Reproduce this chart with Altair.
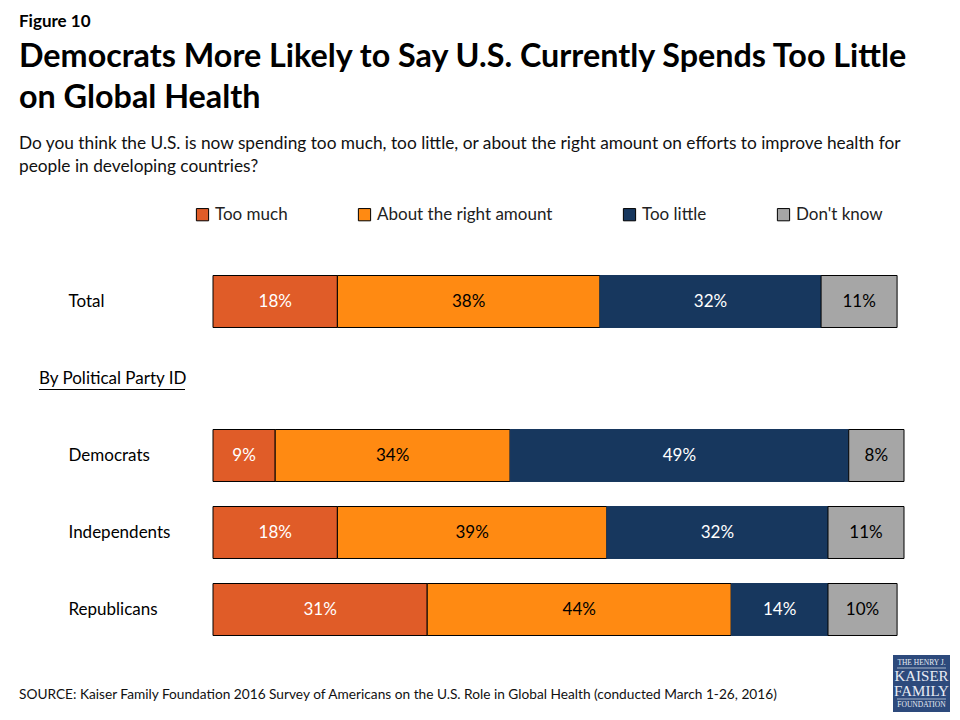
import altair as alt
import pandas as pd

rows = ["Total", "Democrats", "Independents", "Republicans"]
series = ["Too much", "About the right amount", "Too little", "Don't know"]
too_much = [18, 9, 18, 31]
about_right = [38, 34, 39, 44]
too_little = [32, 49, 32, 14]
dont_know = [11, 8, 11, 10]
colors = ["#E05C28", "#FF8A12", "#17375E", "#A6A6A6"]
section_label = "By Political Party ID"
y_domain = ["Total", section_label, "Democrats", "Independents", "Republicans"]

FONT = "Lato"

recs = []
for i, r in enumerate(rows):
    for j, (s, vals) in enumerate(zip(series, [too_much, about_right, too_little, dont_know])):
        recs.append({"row": r, "series": s, "order": j, "value": vals[i]})
df = pd.DataFrame(recs)

W, H = 691, 385

base = alt.Chart(df).transform_stack(
    stack="value", groupby=["row"], sort=[alt.SortField("order", order="ascending")], as_=["x0", "x1"]
).transform_calculate(
    mid="(datum.x0 + datum.x1) / 2",
    label="datum.value + '%'",
    tc="(datum.series == 'Too much' || datum.series == 'Too little') ? 'white' : 'black'",
)

yscale = alt.Scale(domain=y_domain, paddingInner=0.325, paddingOuter=0.1625)
xscale = alt.Scale(domain=[0, 100], nice=False, zero=True)
yenc = alt.Y(
    "row:N",
    scale=yscale,
    axis=alt.Axis(
        title=None, domain=False, ticks=False, tickSize=0, grid=False,
        labelPadding=145, labelAlign="left", labelBaseline="middle",
        labelFont=FONT, labelFontSize=17, labelColor="#000000",
        labelExpr="datum.value == 'By Political Party ID' ? '' : datum.value",
    ),
)

bars = base.mark_bar(strokeWidth=1).encode(
    x=alt.X("x0:Q", scale=xscale, axis=None),
    x2="x1:Q",
    y=yenc,
    color=alt.Color(
        "series:N",
        scale=alt.Scale(domain=series, range=colors),
        legend=alt.Legend(
            title=None, orient="none", direction="horizontal", columns=4,
            legendX=-19, legendY=-57,
            symbolType="square", symbolSize=150, symbolStrokeColor="black", symbolStrokeWidth=1,
            symbolOpacity=1,
            labelFont=FONT, labelFontSize=17, labelColor="#222222", labelOffset=4,
            labelLimit=0, columnPadding=68,
        ),
    ),
    stroke=alt.condition("datum.series == 'Too little'", alt.value("#17375E"), alt.value("black")),
)

labels = base.mark_text(font=FONT, fontSize=17, baseline="middle", align="center").encode(
    x=alt.X("mid:Q", scale=xscale),
    y=alt.Y("row:N", scale=yscale),
    text="label:N",
    color=alt.Color("tc:N", scale=None),
)

sec_df = pd.DataFrame({"row": [section_label]})
sec_text = alt.Chart(sec_df).mark_text(font=FONT, fontSize=17, align="left", baseline="middle", color="black").encode(
    y=alt.Y("row:N", scale=yscale),
    x=alt.value(-174), text="row:N",
)
sec_line = alt.Chart(sec_df).mark_rule(color="black", strokeWidth=1.2, yOffset=11).encode(
    y=alt.Y("row:N", scale=yscale),
    x=alt.value(-174), x2=alt.value(-28),
)

one = pd.DataFrame({"k": [0]})

def txt(t, x, y, size, weight="normal", color="black", font=FONT, align="left"):
    return alt.Chart(one).mark_text(
        text=t, font=font, fontSize=size, fontWeight=weight, color=color, align=align, baseline="middle"
    ).encode(x=alt.value(x), y=alt.value(y))

fig = txt("Figure 10", -194, -241, 17, "bold")
t1 = txt("Democrats More Likely to Say U.S. Currently Spends Too Little", -194, -206, 32.3, "bold")
t2 = txt("on Global Health", -194, -165, 32.3, "bold")
s1 = txt("Do you think the U.S. is now spending too much, too little, or about the right amount on efforts to improve health for", -194, -119, 17.3, color="#111111")
s2 = txt("people in developing countries?", -194, -96, 17.3, color="#111111")
src = txt("SOURCE: Kaiser Family Foundation 2016 Survey of Americans on the U.S. Role in Global Health (conducted March 1-26, 2016)", -194, 432, 13.7, color="#111111")

logo_bg = alt.Chart(one).mark_rect(color="#2D4A7C").encode(
    x=alt.value(680), x2=alt.value(737), y=alt.value(392), y2=alt.value(449)
)
LF = "Liberation Serif"
lg1 = txt("THE HENRY J.", 708.5, 400, 7.5, color="#E8ECF4", font=LF, align="center")
lg2 = txt("KAISER", 708.5, 413, 15, color="#E8ECF4", font=LF, align="center")
lg3 = txt("FAMILY", 708.5, 428, 15, color="#E8ECF4", font=LF, align="center")
lg4 = txt("FOUNDATION", 708.5, 442, 7.5, color="#E8ECF4", font=LF, align="center")
lr1 = alt.Chart(one).mark_rule(color="white", strokeWidth=0.6).encode(x=alt.value(684), x2=alt.value(733), y=alt.value(405))
lr2 = alt.Chart(one).mark_rule(color="white", strokeWidth=0.6).encode(x=alt.value(684), x2=alt.value(733), y=alt.value(436))

chart = alt.layer(
    bars, labels, sec_text, sec_line, fig, t1, t2, s1, s2, src,
    logo_bg, lr1, lr2, lg1, lg2, lg3, lg4,
).properties(
    width=W, height=H,
    autosize=alt.AutoSizeParams(type="none"),
    padding={"left": 205, "top": 255, "right": 48, "bottom": 64},
    background="white",
).configure_view(stroke=None)

chart.save("out.html", embed_options={"renderer": "svg", "actions": False})
